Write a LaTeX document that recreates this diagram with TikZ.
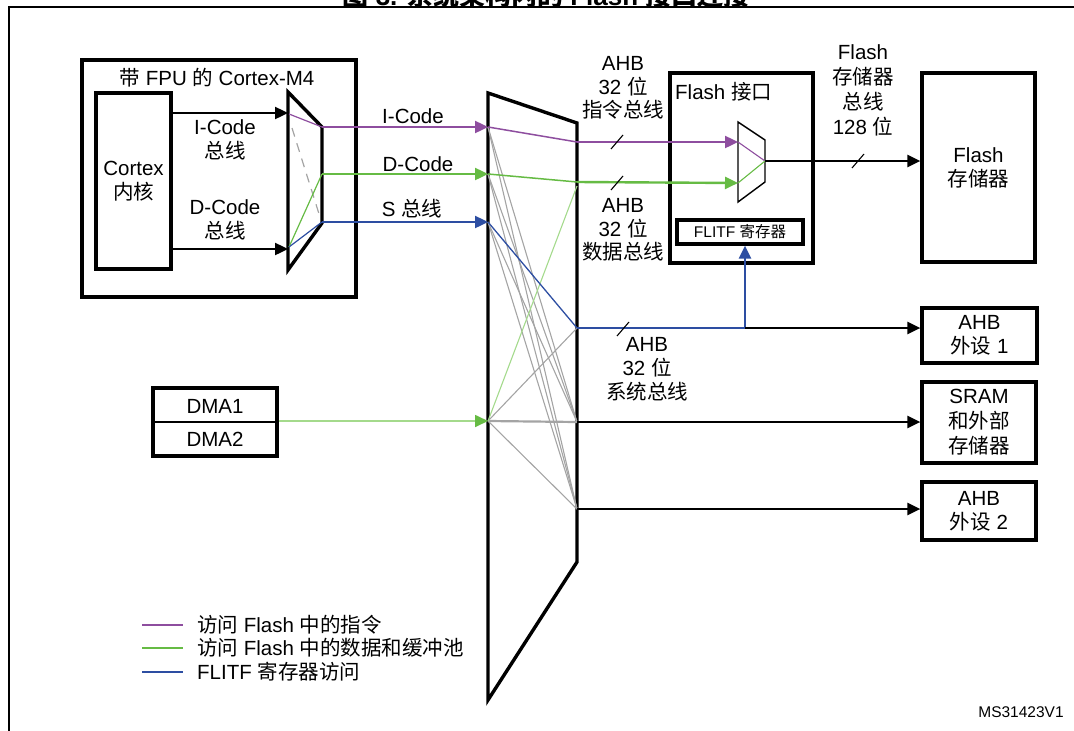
\documentclass[tikz,border=0pt]{standalone}
\usepackage{fontspec}
\setmainfont{Liberation Sans}
\newfontfamily\cjk{Noto Sans CJK SC}
\usetikzlibrary{arrows.meta}
\definecolor{Instr}{HTML}{8E4E9F}
\definecolor{Data}{HTML}{66BB44}
\definecolor{DataLt}{HTML}{A4DA8C}
\definecolor{Reg}{HTML}{2D4EA2}
\definecolor{Cross}{HTML}{A4A4A4}
\newcommand{\zh}[1]{{\cjk #1}}

\begin{document}
\begin{tikzpicture}[x=1pt,y=-1pt,
every node/.style={font=\fontsize{20.5}{24}\selectfont,align=center,inner sep=0pt},
box/.style={draw,line width=3.2pt,inner sep=0pt},
bus/.style={line width=2.4pt},
wire/.style={line width=1.2pt},
>={Triangle[length=13pt,width=12pt]}]
\useasboundingbox (0,0) rectangle (1074,731);
% frame and title
\draw[line width=2.6pt] (9,760) -- (9,7) -- (1090,7);
\node[anchor=base,font=\bfseries\fontsize{26}{30}\selectfont] (title) at (546,5.5) {\zh{图} 3. \zh{系统架构内的} Flash \zh{接口连接}};
% Cortex-M4 with FPU
\node[box,minimum width=274,minimum height=237] (cpu) at (219,178.5) {};
\node (cputitle) at (217,78) {\zh{带} FPU \zh{的} Cortex-M4};
\node[box,minimum width=75,minimum height=176] (core) at (133.5,181) {Cortex\\\zh{内核}};
\draw[line width=3.4pt] (288,92) -- (322,127) -- (322,223) -- (288,270) -- cycle;
\coordinate (icin) at (288,113);\coordinate (dcin) at (288,249);
\coordinate (icout) at (322,127);\coordinate (dcout) at (322,174);\coordinate (sout) at (322,222);
\draw[bus,->] (core.east |- icin) -- (icin);
\draw[bus,->] (core.east |- dcin) -- (dcin);
\node (iclbl) at (225,140) {I-Code\\\zh{总线}};
\node (dclbl) at (225,220) {D-Code\\\zh{总线}};
\draw[wire,Instr] (289,114) -- (icout);
\draw[wire,Cross,dashed,dash pattern=on 9pt off 7pt] (292,128) -- (320,217);
\draw[wire,Data] (289,247) -- (dcout);
\draw[wire,Reg] (289,247) -- (sout);
% bus matrix
\draw[line width=3.4pt] (488,93) -- (577,123) -- (577,562) -- (488,700) -- cycle;
\coordinate (mi) at (488,127);\coordinate (md) at (488,174);\coordinate (ms) at (488,222);\coordinate (mdma) at (488,421);
\coordinate (fi) at (577,142);\coordinate (fd) at (577,182);\coordinate (fdd) at (577,186);
\coordinate (pa) at (577,328);\coordinate (pm) at (577,422);\coordinate (pb) at (577,509);
\draw[bus,Instr,->] (icout) -- (mi);
\draw[bus,Data,->] (dcout) -- (md);
\draw[bus,Reg,->] (sout) -- (ms);
\node (ilbl) at (413,116) {I-Code};
\node (dlbl) at (418,164) {D-Code};
\node (slbl) at (412,209) {S \zh{总线}};
\foreach \a/\b in {mi/pm,mi/pb,md/pm,md/pb,ms/pm,ms/pb,mdma/pa,mdma/pb}
  \draw[Cross,line width=1.1pt] (\a) -- (\b);
\draw[Cross,line width=2.2pt] (mdma) -- (pm);
\draw[DataLt,line width=1.1pt] (mdma) -- (fdd);
\draw[Instr,line width=1.5pt] (mi) -- (fi);
\draw[Data,line width=1.5pt] (md) -- (fd);
\draw[Reg,line width=1.3pt] (ms) -- (pa);
% Flash interface
\node[box,minimum width=143,minimum height=190] (flashif) at (741.5,168) {};
\node[anchor=west] (iftitle) at (675,92) {Flash \zh{接口}};
\node[box,minimum width=126,minimum height=24,font=\fontsize{15.5}{18}\selectfont] (flitf) at (740,232) {FLITF \zh{寄存器}};
\draw[line width=1.4pt] (738,122) -- (765,140) -- (765,182) -- (738,202) -- cycle;
\coordinate (fmi) at (738,142);\coordinate (fmd) at (738,183);\coordinate (fmout) at (765,161);
\draw[bus,Instr,->] (fi) -- (fmi);
\draw[bus,Data,->] (fd) -- (fmd);
\draw[Instr,line width=1.1pt] (fmi) -- (fmout);
\draw[Data,line width=1.1pt] (fmd) -- (fmout);
\node[font=\fontsize{20.5}{23.5}\selectfont] (ibuslbl) at (623,88) {AHB\\32 \zh{位}\\\zh{指令总线}};
\node[font=\fontsize{20.5}{23.5}\selectfont] (dbuslbl) at (623,230) {AHB\\32 \zh{位}\\\zh{数据总线}};
\draw[line width=1.1pt] (617,142) ++(-6,7) -- ++(12,-14);
\draw[line width=1.1pt] (617,183) ++(-6,7) -- ++(12,-14);
% Flash memory
\node[box,minimum width=113,minimum height=189] (flashmem) at (978.5,167.5) {Flash\\\zh{存储器}};
\draw[bus,->] (fmout) -- (fmout -| flashmem.west);
\node[font=\fontsize{20.5}{25}\selectfont] (fbuslbl) at (863,90.5) {Flash\\\zh{存储器}\\\zh{总线}\\128 \zh{位}};
\draw[line width=1.1pt] (858,161) ++(-6,7) -- ++(12,-14);
% AHB slaves
\node[box,minimum width=115,minimum height=55] (ahbone) at (979.5,335.5) {AHB\\\zh{外设} 1};
\node[box,minimum width=114,minimum height=81,font=\fontsize{20.5}{25}\selectfont] (sram) at (979,422.5) {SRAM\\\zh{和外部}\\\zh{存储器}};
\node[box,minimum width=114,minimum height=58] (ahbtwo) at (979,511) {AHB\\\zh{外设} 2};
\coordinate (tee) at (745,328);
\draw[bus,Reg,->] (pa) -- (tee) -- (tee |- flitf.south);
\draw[bus,->] (tee) -- (ahbone.west |- tee);
\draw[bus,->] (pm) -- (pm -| sram.west);
\draw[bus,->] (pb) -- (pb -| ahbtwo.west);
\node (sbuslbl) at (647,369) {AHB\\32 \zh{位}\\\zh{系统总线}};
\draw[line width=1.1pt] (623,329) ++(-6,7) -- ++(12,-14);
% DMA
\node[box,minimum width=124,minimum height=68] (dma) at (215,422) {};
\draw[line width=1.6pt] (dma.west) -- (dma.east);
\node (dmaone) at (215,406) {DMA1};
\node (dmatwo) at (215,439) {DMA2};
\draw[DataLt,line width=1.7pt,-{Triangle[length=13pt,width=12pt,color=Data]}] (dma.east |- mdma) -- (mdma);
% legend
\node[anchor=west] (legi) at (197,625) {\zh{访问} Flash \zh{中的指令}};
\node[anchor=west] (legd) at (197,648) {\zh{访问} Flash \zh{中的数据和缓冲池}};
\node[anchor=west] (legr) at (197,672) {FLITF \zh{寄存器访问}};
\draw[Instr,line width=1.7pt] (legi.west) ++(-55,0) -- ++(41,0);
\draw[Data,line width=1.7pt] (legd.west) ++(-55,0) -- ++(41,0);
\draw[Reg,line width=1.7pt] (legr.west) ++(-55,0) -- ++(41,0);
\node[font=\fontsize{15.5}{18}\selectfont] (docid) at (1021,712) {MS31423V1};
\end{tikzpicture}
\end{document}
